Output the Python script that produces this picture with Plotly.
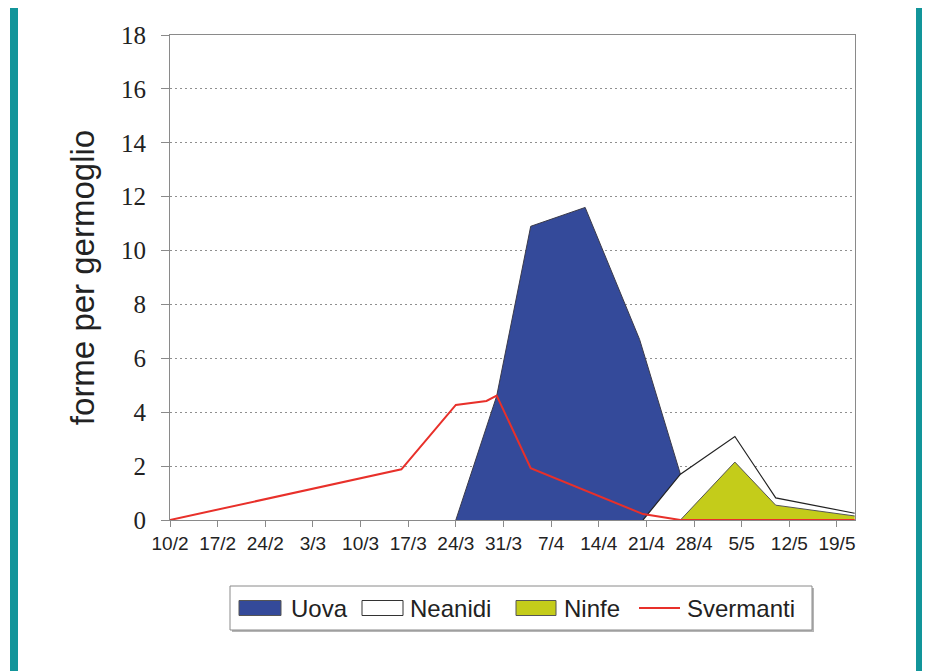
import plotly.graph_objects as go

# ---- data (x = days after 10/2) ----
tick_days = [0, 7, 14, 21, 28, 35, 42, 49, 56, 63, 70, 77, 84, 91, 98]
tick_labels = ["10/2", "17/2", "24/2", "3/3", "10/3", "17/3", "24/3", "31/3",
               "7/4", "14/4", "21/4", "28/4", "5/5", "12/5", "19/5"]

series_names = ["Uova", "Neanidi", "Ninfe", "Svermanti"]

uova_x = [42, 48, 53, 61, 69, 75, 83]
uova_y = [0, 4.6, 10.9, 11.6, 6.7, 1.7, 0]

neanidi_x = [69.5, 75, 83, 89, 100.6]
neanidi_y = [0, 1.7, 3.1, 0.82, 0.25]

ninfe_x = [75, 83, 89, 100.6]
ninfe_y = [0, 2.15, 0.55, 0.15]

svermanti_x = [0, 34, 42, 46.5, 48, 53, 69.5, 75, 83, 89, 100.6]
svermanti_y = [0, 1.88, 4.27, 4.42, 4.62, 1.92, 0.22, 0, 0, 0, 0]

# ---- styling ----
W, H = 930, 671
OFF = 8  # page body margin offset
L, R, T, B = 170 - OFF, 855 - OFF, 35 - OFF, 520 - OFF

C_UOVA = "#344a9a"
C_NINFE = "#c4cc1a"
C_RED = "#e8302a"
C_TEAL = "#12959a"
FONT_SANS = "Liberation Sans"

fig = go.Figure()
fig.add_trace(go.Scatter(x=uova_x, y=uova_y, name=series_names[0], mode="lines",
                         fill="tozeroy", fillcolor=C_UOVA, showlegend=False,
                         line=dict(color="#3a3a4a", width=1)))
fig.add_trace(go.Scatter(x=neanidi_x, y=neanidi_y, name=series_names[1], mode="lines",
                         fill="tozeroy", fillcolor="#ffffff", showlegend=False,
                         line=dict(color="#222222", width=1.2)))
fig.add_trace(go.Scatter(x=ninfe_x, y=ninfe_y, name=series_names[2], mode="lines",
                         fill="tozeroy", fillcolor=C_NINFE, showlegend=False,
                         line=dict(color="#555555", width=1)))
fig.add_trace(go.Scatter(x=svermanti_x, y=svermanti_y, name=series_names[3], mode="lines",
                         showlegend=False, line=dict(color=C_RED, width=2)))


def px_x(p):
    return (p - L) / (R - L)


def px_y(p):
    return (B - p) / (B - T)


def prect(x0, x1, y0, y1, fill, line_color=None, lw=0):
    return dict(type="rect", xref="paper", yref="paper",
                x0=px_x(x0), x1=px_x(x1), y0=px_y(y1), y1=px_y(y0),
                fillcolor=fill, line=dict(width=lw, color=line_color or fill), layer="above")


LEG_Y = 600  # centre of legend row (figure px)
shapes = [
    # teal frame bands
    prect(10 - OFF, 18 - OFF, -10, H + 10, C_TEAL),
    prect(916 - OFF, 924 - OFF, -10, H + 10, C_TEAL),
    # legend shadow + box
    prect(224, 806, 580, 624, "#b5b5b5"),
    prect(222, 804, 578, 622, "white", "#8a8a8a", 1),
    # legend swatches
    prect(231, 273, LEG_Y - 7.5, LEG_Y + 7.5, C_UOVA, "#555555", 1),
    prect(354, 395, LEG_Y - 7.5, LEG_Y + 7.5, "white", "#333333", 1),
    prect(508, 548, LEG_Y - 7.5, LEG_Y + 7.5, C_NINFE, "#555555", 1),
    dict(type="line", xref="paper", yref="paper", x0=px_x(631), x1=px_x(672),
         y0=px_y(LEG_Y), y1=px_y(LEG_Y), line=dict(color=C_RED, width=2), layer="above"),
]

legend_text_x = [281, 400, 554, 677]
annotations = [
    dict(text=name, xref="paper", yref="paper", x=px_x(tx), y=px_y(LEG_Y),
         xanchor="left", yanchor="middle", showarrow=False,
         font=dict(family=FONT_SANS, size=24, color="#222"))
    for name, tx in zip(series_names, legend_text_x)
]

fig.update_layout(
    width=W, height=H,
    margin=dict(l=L, r=W - R, t=T, b=H - B, autoexpand=False),
    paper_bgcolor="white", plot_bgcolor="white",
    showlegend=False,
    shapes=shapes,
    annotations=annotations,
    xaxis=dict(range=[0, 100.65], tickmode="array", tickvals=tick_days, ticktext=tick_labels,
               showgrid=False, zeroline=False, showline=True, linecolor="#8a8a8a",
               linewidth=1, mirror=True, ticks="outside", ticklen=6, tickcolor="#8a8a8a",
               tickfont=dict(family=FONT_SANS, size=19, color="#222")),
    yaxis=dict(range=[0, 18], dtick=2, showgrid=True, gridcolor="#8f8f8f", griddash="2px,3px",
               gridwidth=1, zeroline=False, showline=True, linecolor="#8a8a8a", linewidth=1,
               mirror=True, ticks="outside", ticklen=8, tickcolor="#8a8a8a",
               ticklabelstandoff=10,
               tickfont=dict(family="Liberation Serif", size=25, color="#222"),
               title=dict(text="forme per germoglio", standoff=16,
                          font=dict(family=FONT_SANS, size=33, color="#222"))),
)

fig.write_html("out.html")
